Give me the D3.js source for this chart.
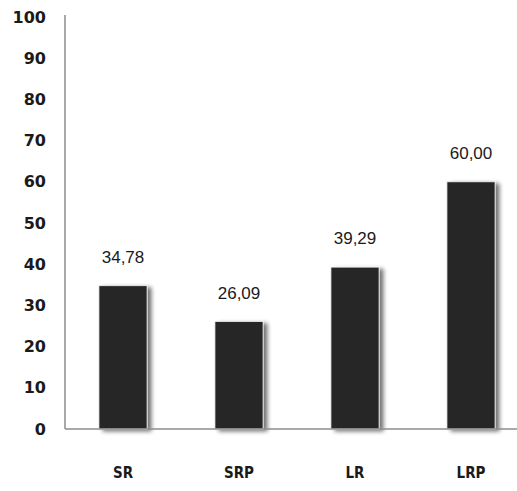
<!DOCTYPE html>
<html>
<head>
<meta charset="utf-8">
<script src="https://cdn.jsdelivr.net/npm/d3@7"></script>
<style>
  body { margin: 0; background: #fff; }
  svg { display: block; }
</style>
</head>
<body>
<div id="chart"></div>
<script>
var categories = ["SR", "SRP", "LR", "LRP"];
var values = [34.78, 26.09, 39.29, 60.00];
var yTicks = [0, 10, 20, 30, 40, 50, 60, 70, 80, 90, 100];

var width = 517, height = 491;
var margin = {top: 17, right: 0, bottom: 62, left: 65};

var svg = d3.select("#chart")
  .append("svg")
  .attr("width", width)
  .attr("height", height);

// soft shadow to the right of each bar
var defs = svg.append("defs");
var f = defs.append("filter")
  .attr("id", "shadow")
  .attr("x", "-20%").attr("y", "-10%")
  .attr("width", "160%").attr("height", "130%");
f.append("feGaussianBlur").attr("in", "SourceAlpha").attr("stdDeviation", 2.2).attr("result", "blur");
f.append("feOffset").attr("in", "blur").attr("dx", 4).attr("dy", 2).attr("result", "off");
f.append("feComponentTransfer").attr("in", "off").attr("result", "soft")
  .append("feFuncA").attr("type", "linear").attr("slope", 0.55);
var merge = f.append("feMerge");
merge.append("feMergeNode").attr("in", "soft");
merge.append("feMergeNode").attr("in", "SourceGraphic");

var x = d3.scaleBand()
  .domain(categories)
  .range([margin.left, margin.left + 464])
  .paddingInner(0.585)
  .paddingOuter(0.2925);

var y = d3.scaleLinear()
  .domain([0, 100])
  .range([height - margin.bottom, margin.top]);

// bars
svg.selectAll(".bar")
  .data(values)
  .enter()
  .append("rect")
    .attr("class", "bar")
    .attr("x", function(d, i) { return x(categories[i]); })
    .attr("y", function(d) { return y(d); })
    .attr("width", x.bandwidth())
    .attr("height", function(d) { return y(0) - y(d); })
    .attr("fill", "#262626")
    .attr("stroke", "#f2f2f2")
    .attr("stroke-width", 0.8)
    .attr("filter", "url(#shadow)");

// value labels
svg.selectAll(".val")
  .data(values)
  .enter()
  .append("text")
    .attr("class", "val")
    .attr("x", function(d, i) { return x(categories[i]) + x.bandwidth() / 2; })
    .attr("y", function(d) { return y(d) - 23; })
    .attr("text-anchor", "middle")
    .style("font-family", "'Liberation Sans', Arial, sans-serif")
    .style("font-size", "17px")
    .style("fill", "#1a1a1a")
    .text(function(d) { return d.toFixed(2).replace(".", ","); });

// y axis
var yAxis = svg.append("g")
  .attr("transform", "translate(" + margin.left + ",0)")
  .call(d3.axisLeft(y).tickValues(yTicks).tickSize(0).tickPadding(19));
yAxis.select(".domain").attr("stroke", "#8c8c8c").attr("stroke-width", 1.5)
  .attr("d", "M0," + (margin.top - 2) + "V" + y(0));
yAxis.selectAll("text")
  .style("font-family", "'DejaVu Sans', sans-serif")
  .style("font-weight", "bold")
  .style("font-size", "16px")
  .style("fill", "#1a1a1a");

// x axis
var xAxis = svg.append("g")
  .attr("transform", "translate(0," + y(0) + ")")
  .call(d3.axisBottom(x).tickSize(0).tickPadding(38));
xAxis.select(".domain").attr("stroke", "#8c8c8c").attr("stroke-width", 1.5)
  .attr("d", "M" + margin.left + ",0H" + width);
xAxis.selectAll("text")
  .style("font-family", "'Liberation Sans Narrow', 'DejaVu Sans Condensed', sans-serif")
  .style("font-weight", "bold")
  .style("font-size", "15px")
  .style("fill", "#1a1a1a");
</script>
</body>
</html>
